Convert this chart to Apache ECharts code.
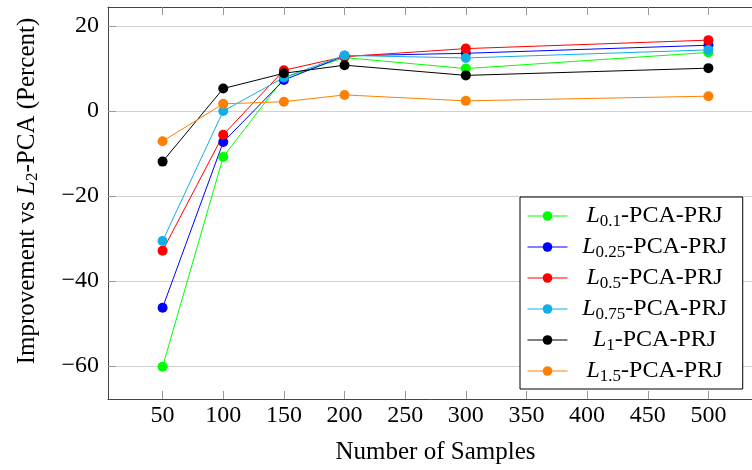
<!DOCTYPE html>
<html><head><meta charset="utf-8">
<script src="https://cdn.jsdelivr.net/npm/echarts@6/dist/echarts.min.js"></script>
<style>html,body{margin:0;padding:0;background:#fff}#c{width:752px;height:470px}</style>
</head><body><div id="c"></div>
<script>
const samples = [50, 100, 150, 200, 300, 500];
const xTicks = [50, 100, 150, 200, 250, 300, 350, 400, 450, 500];
const yTicks = [-60, -40, -20, 0, 20];
const seriesNames = ['L0.1-PCA-PRJ', 'L0.25-PCA-PRJ', 'L0.5-PCA-PRJ', 'L0.75-PCA-PRJ', 'L1-PCA-PRJ', 'L1.5-PCA-PRJ'];
const subscripts = ['0.1', '0.25', '0.5', '0.75', '1', '1.5'];
const l01 = [-60.2, -10.8, 7.8, 12.6, 10.0, 13.8];
const l025 = [-46.3, -7.3, 7.3, 13.0, 13.6, 15.5];
const l05 = [-32.9, -5.6, 9.6, 12.8, 14.7, 16.7];
const l075 = [-30.6, 0.0, 7.9, 13.1, 12.5, 14.4];
const l1 = [-11.9, 5.3, 8.9, 10.8, 8.4, 10.1];
const l15 = [-7.1, 1.7, 2.2, 3.8, 2.4, 3.5];
const allData = [l01, l025, l05, l075, l1, l15];
const colors = ['#00ff00', '#0000ff', '#ff0000', '#12aee8', '#000000', '#ff8000'];

const FONT = '"Liberation Serif", "DejaVu Serif", serif';
const chart = echarts.init(document.getElementById('c'), null, {renderer: 'canvas'});

const richLegend = {
  n: {fontFamily: FONT, fontSize: 24, color: '#000', align: 'center', lineHeight: 28},
  i: {fontFamily: FONT, fontSize: 24, fontStyle: 'italic', color: '#000', align: 'center', lineHeight: 28},
  s: {fontFamily: FONT, fontSize: 17, color: '#000', align: 'center', lineHeight: 18, verticalAlign: 'bottom'}
};
const richAxis = {
  n: {fontFamily: FONT, fontSize: 25, color: '#000', lineHeight: 28},
  i: {fontFamily: FONT, fontSize: 25, fontStyle: 'italic', color: '#000', lineHeight: 28},
  s: {fontFamily: FONT, fontSize: 17, color: '#000', lineHeight: 18, verticalAlign: 'bottom'}
};

const minus = v => String(v).replace('-', '\u2212');

const option = {
  backgroundColor: '#fff',
  animation: false,
  grid: {left: 108, top: 7, width: 655, bottom: 71, show: false, containLabel: false, outerBoundsMode: 'none'},
  xAxis: [{
    type: 'value', min: 5, max: 545, position: 'bottom',
    name: 'Number of Samples', nameLocation: 'middle', nameGap: 41,
    nameTextStyle: {fontFamily: FONT, fontSize: 25, color: '#000'},
    axisLine: {show: true, onZero: false, lineStyle: {color: '#444', width: 1}},
    axisTick: {show: true, inside: true, length: 8, lineStyle: {color: '#999'}, customValues: xTicks},
    axisLabel: {fontFamily: FONT, fontSize: 24, color: '#000', margin: 5, customValues: xTicks},
    splitLine: {show: false}
  }, {
    type: 'value', min: 5, max: 545, position: 'top',
    axisLine: {show: true, onZero: false, lineStyle: {color: '#444', width: 1}},
    axisTick: {show: true, inside: true, length: 8, lineStyle: {color: '#999'}, customValues: xTicks},
    axisLabel: {show: false, customValues: xTicks},
    splitLine: {show: false}
  }],
  yAxis: [{
    type: 'value', min: -67.8, max: 24.5,
    name: '{n|Improvement vs }{i|L}{s|2}{n|-PCA (Percent)}', nameLocation: 'middle', nameGap: 67,
    nameTextStyle: {rich: richAxis, padding: [0, 0, 0, 24]},
    axisLine: {show: true, onZero: false, lineStyle: {color: '#444', width: 1}},
    axisTick: {show: true, inside: true, length: 8, lineStyle: {color: '#999'}, customValues: yTicks},
    axisLabel: {fontFamily: FONT, fontSize: 24, color: '#000', margin: 9, customValues: yTicks, formatter: minus},
    splitLine: {show: true, lineStyle: {color: '#d0d0d0', width: 1}}
  }],
  legend: {
    orient: 'vertical', left: 520, top: 197,
    padding: [7, 16, 4, 7], itemGap: 5,
    itemWidth: 40, itemHeight: 12,
    backgroundColor: '#fff', borderColor: '#000', borderWidth: 1,
    lineStyle: {width: 1},
    data: seriesNames,
    formatter: name => {
      const k = seriesNames.indexOf(name);
      return '{i|L}{s|' + subscripts[k] + '}{n|-PCA-PRJ}';
    },
    textStyle: {width: 164, rich: richLegend}
  },
  series: seriesNames.map((nm, k) => ({
    name: nm, type: 'line',
    data: samples.map((x, j) => [x, allData[k][j]]),
    symbol: 'circle', symbolSize: 10,
    lineStyle: {color: colors[k], width: 1},
    itemStyle: {color: colors[k]},
    emphasis: {disabled: true}
  }))
};
chart.setOption(option);
</script>
</body></html>
